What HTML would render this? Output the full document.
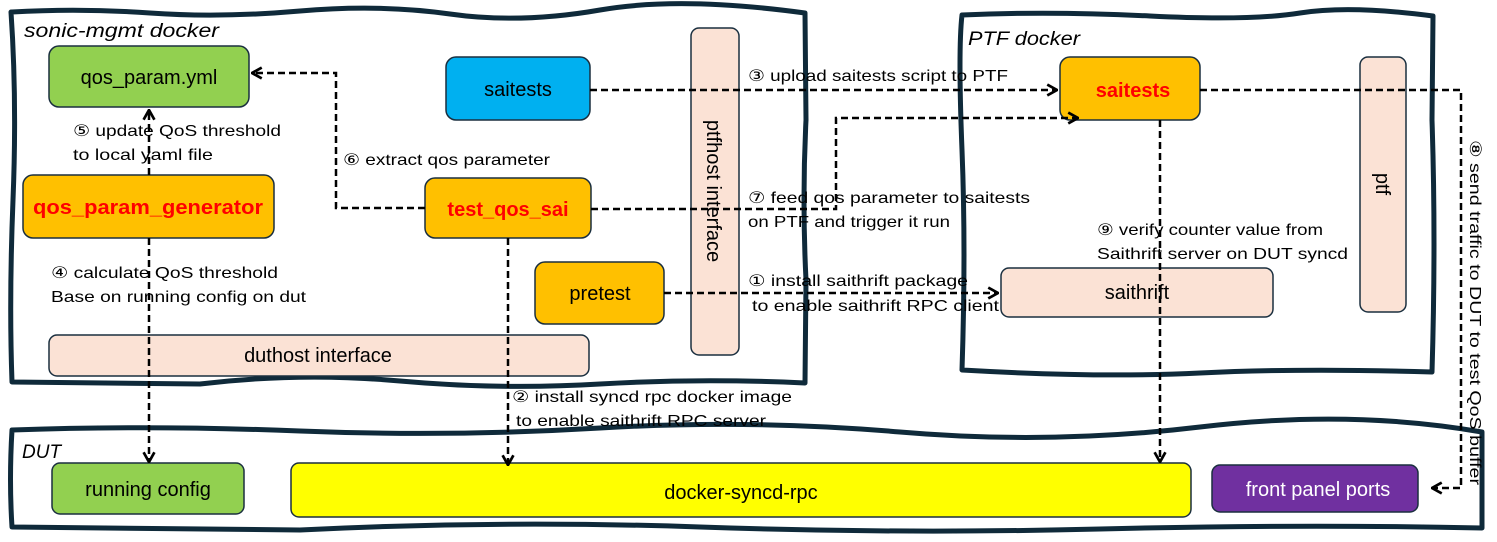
<!DOCTYPE html>
<html><head><meta charset="utf-8"><style>
html,body{margin:0;padding:0;background:#fff;}
svg{display:block;font-family:"Liberation Sans","DejaVu Sans",sans-serif;}
</style></head><body>
<svg width="1497" height="542" viewBox="0 0 1497 542" xmlns="http://www.w3.org/2000/svg">
<defs>
<marker id="a" viewBox="0 0 12 12" refX="11" refY="6" markerWidth="13" markerHeight="13" orient="auto" markerUnits="userSpaceOnUse">
<path d="M2,1 L11,6 L2,11" fill="none" stroke="#000" stroke-width="2.5"/></marker>
</defs>
<g fill="none" stroke="#0f2a3a" stroke-width="5" stroke-linejoin="round">
<path d="M12,12 Q80,8 150,13 T300,11 T450,14 T600,10 T805,13 L806,120 Q802,200 806,280 L805,383 Q700,378 600,384 T400,381 T200,384 L12,382 Q9,300 13,200 T11,12 Z"/>
<path d="M962,15 Q1050,11 1150,16 T1300,13 T1433,16 L1432,120 Q1436,240 1432,372 Q1300,368 1200,373 T962,370 Q966,250 962,150 T962,15 Z"/>
<path d="M12,430 Q150,425 300,431 T600,428 T900,432 T1200,427 T1482,432 L1482,528 Q1300,524 1100,529 T700,527 T300,530 L12,527 Q9,480 12,430 Z"/>
</g>
<g font-style="italic" font-size="19" fill="#000">
<text x="24" y="37" textLength="195" lengthAdjust="spacingAndGlyphs">sonic-mgmt docker</text>
<text x="968" y="45" textLength="112" lengthAdjust="spacingAndGlyphs">PTF docker</text>
<text x="22" y="458">DUT</text>
</g>
<g stroke="#1a2f3f" stroke-width="1.5">
<rect x="49" y="46" width="200" height="61" rx="10" fill="#92d050"/>
<rect x="446" y="57" width="144" height="63" rx="10" fill="#00b0f0"/>
<rect x="691" y="28" width="48" height="327" rx="8" fill="#fbe2d5"/>
<rect x="23" y="175" width="251" height="63" rx="10" fill="#ffc000"/>
<rect x="425" y="178" width="166" height="60" rx="10" fill="#ffc000"/>
<rect x="535" y="262" width="129" height="62" rx="10" fill="#ffc000"/>
<rect x="49" y="335" width="540" height="41" rx="8" fill="#fbe2d5"/>
<rect x="1060" y="57" width="140" height="63" rx="10" fill="#ffc000"/>
<rect x="1360" y="57" width="46" height="255" rx="8" fill="#fbe2d5"/>
<rect x="1001" y="268" width="272" height="49" rx="8" fill="#fbe2d5"/>
<rect x="52" y="463" width="192" height="51" rx="8" fill="#92d050"/>
<rect x="291" y="463" width="900" height="54" rx="8" fill="#ffff00"/>
<rect x="1212" y="465" width="206" height="47" rx="8" fill="#7030a0"/>
</g>
<g font-size="20" text-anchor="middle" fill="#000">
<text x="149" y="84">qos_param.yml</text>
<text x="518" y="96">saitests</text>
<text x="148" y="214" fill="#ff0000" font-weight="bold" textLength="230" lengthAdjust="spacingAndGlyphs">qos_param_generator</text>
<text x="508" y="216" fill="#ff0000" font-weight="bold">test_qos_sai</text>
<text x="600" y="300">pretest</text>
<text x="318" y="362">duthost interface</text>
<text x="1133" y="97" fill="#ff0000" font-weight="bold">saitests</text>
<text x="1137" y="299">saithrift</text>
<text x="148" y="496">running config</text>
<text x="741" y="499">docker-syncd-rpc</text>
<text x="1318" y="496" fill="#fff">front panel ports</text>
<text transform="translate(707,191) rotate(90)">ptfhost interface</text>
<text transform="translate(1376,184) rotate(90)">ptf</text>
</g>
<g fill="none" stroke="#000" stroke-width="2.5" stroke-dasharray="7,4">
<path d="M425,208 H336 V73 H252" marker-end="url(#a)"/>
<path d="M149,175 V110" marker-end="url(#a)"/>
<path d="M149,238 V462" marker-end="url(#a)"/>
<path d="M590,90 H1057" marker-end="url(#a)"/>
<path d="M591,209 H836 V118 H1078" marker-end="url(#a)"/>
<path d="M664,293 H998" marker-end="url(#a)"/>
<path d="M508,238 V465" marker-end="url(#a)"/>
<path d="M1160,120 V462" marker-end="url(#a)"/>
<path d="M1200,90 H1461 V488 H1432" marker-end="url(#a)"/>
</g>
<g font-size="16" fill="#000">
<text x="73" y="136" textLength="208" lengthAdjust="spacingAndGlyphs">⑤ update QoS threshold</text>
<text x="73" y="160" textLength="140" lengthAdjust="spacingAndGlyphs">to local yaml file</text>
<text x="343" y="165" textLength="207" lengthAdjust="spacingAndGlyphs">⑥ extract qos parameter</text>
<text x="51" y="278" textLength="227" lengthAdjust="spacingAndGlyphs">④ calculate QoS threshold</text>
<text x="51" y="302" textLength="255" lengthAdjust="spacingAndGlyphs">Base on running config on dut</text>
<text x="748" y="81" textLength="260" lengthAdjust="spacingAndGlyphs">③ upload saitests script to PTF</text>
<text x="748" y="203" textLength="282" lengthAdjust="spacingAndGlyphs">⑦ feed qos parameter to saitests</text>
<text x="748" y="227" textLength="202" lengthAdjust="spacingAndGlyphs">on PTF and trigger it run</text>
<text x="748" y="286" textLength="220" lengthAdjust="spacingAndGlyphs">① install saithrift package</text>
<text x="752" y="311" textLength="247" lengthAdjust="spacingAndGlyphs">to enable saithrift RPC client</text>
<text x="512" y="402" textLength="280" lengthAdjust="spacingAndGlyphs">② install syncd rpc docker image</text>
<text x="516" y="426" textLength="250" lengthAdjust="spacingAndGlyphs">to enable saithrift RPC server</text>
<text x="1097" y="235" textLength="226" lengthAdjust="spacingAndGlyphs">⑨ verify counter value from</text>
<text x="1097" y="259" textLength="251" lengthAdjust="spacingAndGlyphs">Saithrift server on DUT syncd</text>
<text transform="translate(1470,140) rotate(90)" textLength="345" lengthAdjust="spacingAndGlyphs">⑧ send traffic to  DUT to test QoS buffer</text>
</g>
</svg>
</body></html>
